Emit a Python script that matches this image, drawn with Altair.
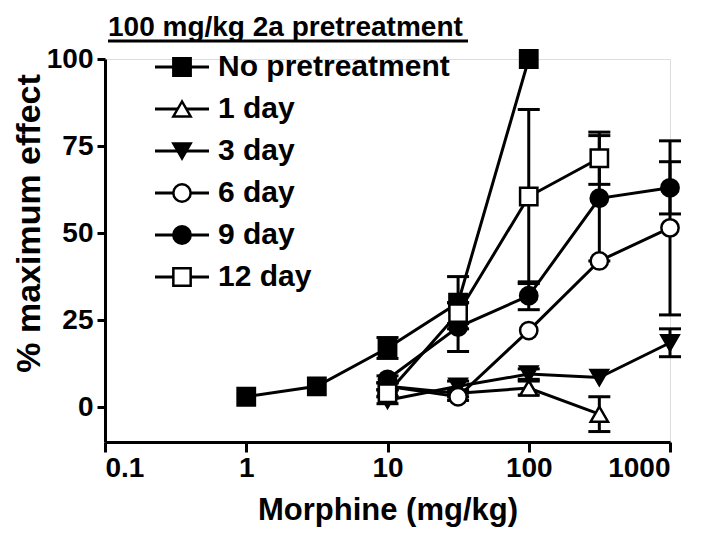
import altair as alt
import pandas as pd

series_names = ["No pretreatment", "1 day", "3 day", "6 day", "9 day", "12 day"]

no_dose = [1, 3.16, 10, 31.6, 100]
no_mean = [3, 6, 17, 30, 100]
no_err = [0, 0, 3, 7.5, 0]

d1_dose = [10, 31.6, 100, 316]
d1_mean = [6, 4, 5.5, -2]
d1_err = [1, 1, 2, 5]

d3_dose = [10, 31.6, 100, 316, 1000]
d3_mean = [2, 6, 9.5, 8.5, 18.5]
d3_err = [1, 1.5, 1.5, 0, 4]

d6_dose = [10, 31.6, 100, 316, 1000]
d6_mean = [6, 3, 22, 42, 51.5]
d6_err = [1, 1, 0, 0, 25]

d9_dose = [10, 31.6, 100, 316, 1000]
d9_mean = [8, 23, 32, 60, 63]
d9_err = [1, 7, 4, 18, 7.5]

d12_dose = [10, 31.6, 100, 316]
d12_mean = [4, 27, 60.5, 71.5]
d12_err = [1, 3, 25, 7.5]

x_ticks = [0.1, 1, 10, 100, 1000]
y_ticks = [0, 25, 50, 75, 100]

groups = [
    ("No pretreatment", no_dose, no_mean, no_err),
    ("1 day", d1_dose, d1_mean, d1_err),
    ("3 day", d3_dose, d3_mean, d3_err),
    ("6 day", d6_dose, d6_mean, d6_err),
    ("9 day", d9_dose, d9_mean, d9_err),
    ("12 day", d12_dose, d12_mean, d12_err),
]
rows = []
for name, ds, ms, es in groups:
    for d, m, e in zip(ds, ms, es):
        rows.append({"series": name, "dose": d, "mean": m, "err": e,
                     "lo": m - e, "hi": m + e})
df = pd.DataFrame(rows)
legend_df = pd.DataFrame({"series": series_names})

point_shapes = ["square", "triangle-up", "triangle-down", "circle", "circle", "square"]
fills = ["black", "white", "black", "white", "black", "white"]

FONT = "Liberation Sans"
XT = "Morphine (mg/kg)"
YT = "% maximum effect"

x_axis = alt.Axis(values=x_ticks, labelExpr="'' + datum.value", grid=False,
                  domainColor="black", domainWidth=3, tickColor="black",
                  tickWidth=3, tickSize=10, labelFont=FONT, labelFontSize=28,
                  labelFontWeight="bold", labelColor="black", labelPadding=2,
                  titleFont=FONT, titleFontSize=31, titleFontWeight="bold",
                  titleColor="black", titleBaseline="alphabetic", titleY=77)
y_axis = alt.Axis(values=y_ticks, grid=False, domainColor="black", domainWidth=3,
                  tickColor="black", tickWidth=3, tickSize=8, labelFont=FONT,
                  labelFontSize=28, labelFontWeight="bold", labelColor="black",
                  labelPadding=4, titleFont=FONT, titleFontSize=34,
                  titleFontWeight="bold", titleColor="black", titleAngle=270,
                  titleBaseline="alphabetic", titleAlign="center",
                  titleX=-66, titleY=164)

xs = alt.Scale(type="log", domain=[0.1, 1000])
ys = alt.Scale(domain=[-10, 100], nice=False, zero=False)
shape_scale = alt.Scale(domain=series_names, range=point_shapes)
fill_scale = alt.Scale(domain=series_names, range=fills)

base = alt.Chart(df)

lines = base.mark_line(color="black", strokeWidth=3).encode(
    x=alt.X("dose:Q", scale=xs, axis=x_axis, title=XT),
    y=alt.Y("mean:Q", scale=ys, axis=y_axis, title=YT),
    detail="series:N",
    order="dose:Q",
)

err_base = base.transform_filter("datum.err > 0")
err = err_base.mark_rule(color="black", strokeWidth=3).encode(
    x=alt.X("dose:Q", title=XT),
    y=alt.Y("lo:Q", title=YT),
    y2="hi:Q",
)
cap_lo = err_base.mark_tick(orient="horizontal", size=22, thickness=3,
                            color="black", opacity=1).encode(
    x=alt.X("dose:Q", title=XT), y=alt.Y("lo:Q", title=YT))
cap_hi = err_base.mark_tick(orient="horizontal", size=22, thickness=3,
                            color="black", opacity=1).encode(
    x=alt.X("dose:Q", title=XT), y=alt.Y("hi:Q", title=YT))

points = base.mark_point(filled=True, size=300, opacity=1, stroke="black",
                         strokeWidth=2.5).encode(
    x=alt.X("dose:Q", title=XT),
    y=alt.Y("mean:Q", title=YT),
    shape=alt.Shape("series:N", scale=shape_scale, legend=None),
    fill=alt.Fill("series:N", scale=fill_scale, legend=None),
)

main = alt.layer(lines, err, cap_lo, cap_hi, points)

# legend drawn with its own point scale for the rows
leg_y = alt.Y("series:N", scale=alt.Scale(type="point", domain=series_names,
                                          range=[8, 218], padding=0), axis=None)
leg_base = alt.Chart(legend_df)
leg_rule = leg_base.mark_rule(color="black", strokeWidth=3).encode(
    x=alt.value(50), x2=alt.value(104), y=leg_y)
leg_pts = leg_base.mark_point(filled=True, size=300, opacity=1, stroke="black",
                              strokeWidth=2.5).encode(
    x=alt.value(77), y=leg_y,
    shape=alt.Shape("series:N", scale=shape_scale, legend=None),
    fill=alt.Fill("series:N", scale=fill_scale, legend=None))
leg_txt = leg_base.mark_text(align="left", baseline="middle", font=FONT,
                             fontSize=30, fontWeight="bold", color="black").encode(
    x=alt.value(113), y=leg_y, text="series:N")
legend = alt.layer(leg_rule, leg_pts, leg_txt)

underline = alt.Chart(pd.DataFrame({"a": [0]})).mark_rule(color="black", strokeWidth=3).encode(
    x=alt.value(3), x2=alt.value(363), y=alt.value(-18))

chart = alt.layer(main, legend, underline).resolve_scale(
    y="independent"
).properties(
    width=565, height=383,
    autosize=alt.AutoSizeParams(type="none"),
    padding={"left": 97, "top": 51, "right": 27, "bottom": 85},
    title=alt.TitleParams("100 mg/kg 2a pretreatment", anchor="start", frame="group",
                          fontSize=28, font=FONT, fontWeight="bold", color="black",
                          dx=3, dy=6),
).configure_view(stroke=None).configure(font=FONT, background="white")

chart.save("out.html", embed_options={"renderer": "svg", "actions": False})
